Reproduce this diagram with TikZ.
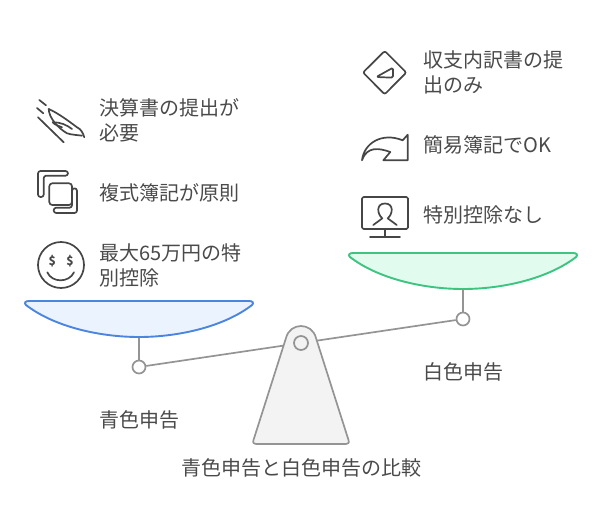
\documentclass[tikz,border=0pt]{standalone}
\usepackage{fontspec}
\setmainfont{Noto Sans CJK JP}
\usetikzlibrary{positioning}
\definecolor{textgray}{HTML}{4A4A4A}
\definecolor{icongray}{HTML}{464646}
\definecolor{beamgray}{HTML}{949494}
\definecolor{bluepanline}{HTML}{4A86E0}
\definecolor{bluepanfill}{HTML}{EBF3FE}
\definecolor{greenpanline}{HTML}{3CC480}
\definecolor{greenpanfill}{HTML}{E1FBEE}
\definecolor{basefill}{HTML}{F3F3F3}
\tikzset{
  label text/.style={text=textgray, font=\fontsize{20}{25}\selectfont, align=left, inner sep=0pt},
  side text/.style={label text, anchor=west},
  icon/.style={draw=icongray, line width=1.7pt, line join=round, line cap=round},
  beam/.style={draw=beamgray, line width=1.7pt},
  joint/.style={circle, draw=beamgray, fill=white, line width=1.7pt, minimum size=13pt, inner sep=0pt}
}
\begin{document}
\begin{tikzpicture}[x=1pt, y=-1pt]
  \useasboundingbox (0,0) rectangle (602,530);

  % scale
  \coordinate (pivotcentre) at (301,343);
  \coordinate (bluepanbottom) at (139,337);
  \coordinate (greenpanbottom) at (463,289);
  \node[joint] (bluejoint) at (139,367) {};
  \node[joint] (greenjoint) at (463,319) {};
  \draw[beam] (bluepanbottom) -- (bluejoint);
  \draw[beam] (greenpanbottom) -- (greenjoint);
  \draw[beam] (bluejoint) -- (pivotcentre);
  \draw[beam] (greenjoint) -- (pivotcentre);

  \draw[draw=bluepanline, fill=bluepanfill, line width=1.9pt]
    (29,301) -- (249,301) .. controls (253,301) and (254,303) .. (252,305)
    .. controls (225,326) and (180,337) .. (bluepanbottom)
    .. controls (98,337) and (53,326) .. (26,305)
    .. controls (24,303) and (25,301) .. (29,301) -- cycle;
  \draw[draw=greenpanline, fill=greenpanfill, line width=1.9pt]
    (353,253) -- (573,253) .. controls (577,253) and (578,255) .. (576,257)
    .. controls (549,278) and (504,289) .. (greenpanbottom)
    .. controls (422,289) and (377,278) .. (350,257)
    .. controls (348,255) and (349,253) .. (353,253) -- cycle;

  \draw[beam, fill=basefill, line join=round]
    (286,338) .. controls (290,322) and (312,322) .. (316,338)
    -- (348.5,440) .. controls (349.5,443) and (348,444) .. (346,444)
    -- (256,444) .. controls (254,444) and (252.5,443) .. (253.5,440) -- cycle;
  \node[joint, minimum size=14pt, fill=basefill] (pivot) at (pivotcentre) {};

  % texts
  \node[side text] (settlement) at (99.5,120) {決算書の提出が\\必要};
  \node[side text] (doubleentry) at (99.5,193) {複式簿記が原則};
  \node[side text] (maxdeduction) at (99.5,265) {最大65万円の特\\別控除};
  \node[side text] (breakdown) at (423.5,72) {収支内訳書の提\\出のみ};
  \node[side text] (simpleentry) at (423.5,145) {簡易簿記でOK};
  \node[side text] (nodeduction) at (423.5,215) {特別控除なし};
  \node[label text] (bluelabel) at (139,420) {青色申告};
  \node[label text] (whitelabel) at (463,372) {白色申告};
  \node[label text] (title) at (301,468) {青色申告と白色申告の比較};

  % icons on the left
  \draw[icon] (39.3,100) -- (46,105.3);
  \draw[icon] (37,108) -- (43.3,113.3);
  \draw[icon] (38,117.3) -- (63.7,142.3);
  \draw[icon] (48.7,109) .. controls (58,113) and (70,122) .. (77,127.3)
    .. controls (81,129) and (83,133) .. (84.3,137.3);
  \draw[icon] (48.7,109) .. controls (49,118) and (58,128) .. (67,133.3)
    .. controls (72,135) and (78,135) .. (82,135.7);
  \draw[icon] (52.7,122.3) .. controls (60,122) and (67,125) .. (72,129);
  \draw[icon] (52.7,122.3) .. controls (55,125) and (59,126) .. (62,127.3);

  \draw[icon, rounded corners=2.5pt]
    (38,171) -- (68,171) -- (68,175.7) -- (43.7,175.7) -- (43.7,197) -- (38,197) -- cycle;
  \draw[icon, rounded corners=3pt] (49.3,183.3) rectangle (72,205);
  \draw[icon, rounded corners=2.5pt]
    (77,188.3) -- (77,213) -- (53.7,213) -- (53.7,207.7) -- (72,207.7) -- (72,188.3) -- cycle;

  \draw[icon] (61,265) circle [radius=23];
  \node[text=icongray, font=\fontsize{12}{12}\selectfont\bfseries, inner sep=0pt] (dollarleft) at (52.3,260.7) {\$};
  \node[text=icongray, font=\fontsize{12}{12}\selectfont\bfseries, inner sep=0pt] (dollarright) at (70,260.7) {\$};
  \draw[icon] (47.3,272.3) .. controls (52,283) and (69,283) .. (74,272.3);

  % icons on the right
  \draw[icon, rounded corners=2pt] (363,72.5) -- (384.7,51) -- (406.3,72.5) -- (384.7,94.3) -- cycle;
  \draw[icon, rounded corners=1.5pt] (376.3,77) -- (393,67.7) -- (393,77.7) -- cycle;

  \draw[icon] (362,160.3) .. controls (364,143) and (382,132) .. (402.7,140.3)
    -- (407.7,134.7) -- (407.7,160.3) -- (383.3,160.3) -- (390.3,152)
    .. controls (379,148) and (367,146) .. (362,160.3);

  \draw[icon, rounded corners=1.5pt] (362,197) rectangle (408,229);
  \draw[icon] (385,229) -- (385,236.7);
  \draw[icon] (370,236.7) -- (400,236.7);
  \draw[icon] (373.3,225) -- (382.3,218.3)
    .. controls (377,214) and (376,203.5) .. (385,203.5)
    .. controls (394,203.5) and (393,214) .. (387.7,218.3) -- (396.7,225);
\end{tikzpicture}
\end{document}
